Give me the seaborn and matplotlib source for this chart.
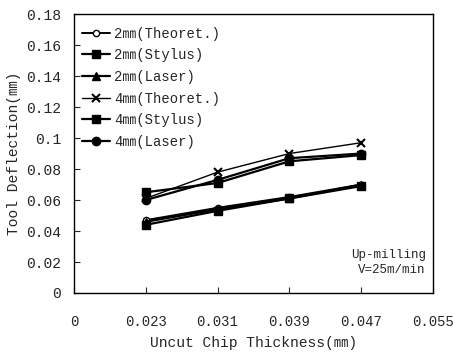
import matplotlib
matplotlib.use("Agg")
import matplotlib.pyplot as plt
import seaborn as sns
import pandas as pd

thickness = [0.023, 0.031, 0.039, 0.047]
series_names = ["2㎜(Theoret.)", "2㎜(Stylus)", "2㎜(Laser)",
                "4㎜(Theoret.)", "4㎜(Stylus)", "4㎜(Laser)"]
d2_theoret = [0.047, 0.055, 0.062, 0.070]
d2_stylus = [0.044, 0.053, 0.061, 0.069]
d2_laser = [0.046, 0.054, 0.061, 0.070]
d4_theoret = [0.061, 0.078, 0.090, 0.097]
d4_stylus = [0.065, 0.071, 0.085, 0.089]
d4_laser = [0.060, 0.073, 0.087, 0.090]
x_ticks = [0.015, 0.023, 0.031, 0.039, 0.047, 0.055]
x_ticklabels = ["0", "0.023", "0.031", "0.039", "0.047", "0.055"]
y_ticks = [0, 0.02, 0.04, 0.06, 0.08, 0.1, 0.12, 0.14, 0.16, 0.18]
y_ticklabels = ["0", "0.02", "0.04", "0.06", "0.08", "0.1", "0.12", "0.14", "0.16", "0.18"]

values = [d2_theoret, d2_stylus, d2_laser, d4_theoret, d4_stylus, d4_laser]
rows = []
for name, vals in zip(series_names, values):
    for x, y in zip(thickness, vals):
        rows.append({"series": name, "x": x, "y": y})
df = pd.DataFrame(rows)

sns.set_style("ticks")
FONT = ["Liberation Mono", "Noto Sans CJK KR", "DejaVu Sans"]
plt.rcParams["font.family"] = FONT
plt.rcParams["xtick.direction"] = "in"
plt.rcParams["ytick.direction"] = "in"

fig = plt.figure(figsize=(4.53, 3.53), dpi=100)
ax = fig.add_axes([0.163, 0.170, 0.793, 0.790])

styles = {
    "2㎜(Theoret.)": dict(marker="o", mfc="white", ms=4.5, lw=1.4),
    "2㎜(Stylus)": dict(marker="s", mfc="black", ms=6, lw=1.6),
    "2㎜(Laser)": dict(marker="^", mfc="black", ms=6, lw=1.6),
    "4㎜(Theoret.)": dict(marker="x", mfc="black", ms=6, lw=1.0, mew=1.5),
    "4㎜(Stylus)": dict(marker="s", mfc="black", ms=6, lw=1.6),
    "4㎜(Laser)": dict(marker="o", mfc="black", ms=6, lw=1.6),
}
for name in series_names:
    st = styles[name]
    sub = df[df["series"] == name]
    sns.lineplot(data=sub, x="x", y="y", ax=ax, color="black",
                 marker=st["marker"], markerfacecolor=st["mfc"],
                 markeredgecolor="black", markersize=st["ms"],
                 linewidth=st["lw"], markeredgewidth=st.get("mew", 1.0),
                 label=name)

ax.set_xlim(0.015, 0.055)
ax.set_ylim(0, 0.18)
ax.set_xticks(x_ticks)
ax.set_xticklabels(x_ticklabels, fontsize=10)
ax.set_yticks(y_ticks)
ax.set_yticklabels(y_ticklabels, fontsize=10.5)
ax.tick_params(axis="x", length=4, width=0.8, pad=16)
ax.tick_params(axis="y", length=4, width=0.8, pad=9)
for s in ax.spines.values():
    s.set_visible(True)
    s.set_linewidth(1.0)
    s.set_color("black")

ax.set_xlabel("Uncut Chip Thickness(㎜)", fontsize=10.5, labelpad=5)
ax.set_ylabel("Tool Deflection(㎜)", fontsize=10.5, labelpad=4)

leg = ax.legend(loc="upper left", frameon=False, fontsize=10,
                handlelength=2.0, handletextpad=0.3, labelspacing=0.55,
                borderaxespad=0.2, bbox_to_anchor=(0.0, 0.985))

ax.text(0.98, 0.11, "Up-milling\nV=25m/min", transform=ax.transAxes,
        ha="right", va="center", fontsize=9, linespacing=1.3)

fig.savefig("out.png", dpi=100)
